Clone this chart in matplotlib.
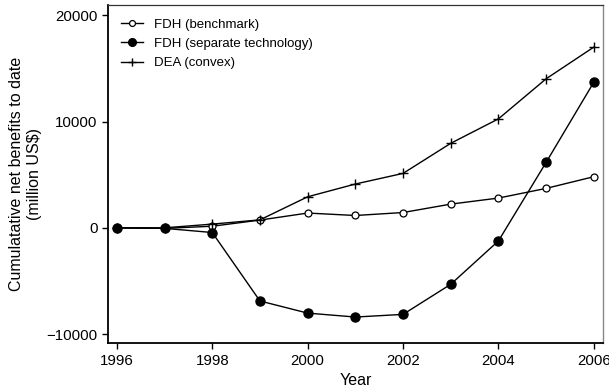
import matplotlib
matplotlib.use("Agg")
import matplotlib.pyplot as plt

plt.rcParams['font.family'] = ['Liberation Sans', 'DejaVu Sans']

years = [1996, 1997, 1998, 1999, 2000, 2001, 2002, 2003, 2004, 2005, 2006]
fdh_bench = [0, -50, 150, 730, 1390, 1160, 1440, 2230, 2800, 3710, 4810]
fdh_sep = [0, -50, -440, -6880, -8020, -8390, -8140, -5310, -1230, 6160, 13700]
dea = [0, 0, 350, 750, 2920, 4120, 5120, 7950, 10250, 14020, 17000]

fig = plt.figure(figsize=(6.09, 3.90), dpi=100)
ax = fig.add_axes([0.177, 0.12, 0.813, 0.867])

ax.plot(years, fdh_bench, color='black', lw=1, marker='o', ms=5,
        mfc='white', mec='black', mew=0.9, label='FDH (benchmark)')
ax.plot(years, fdh_sep, color='black', lw=1, marker='o', ms=6.5,
        mfc='black', mec='black', label='FDH (separate technology)')
ax.plot(years, dea, color='black', lw=1, marker='+', ms=7, mew=1,
        label='DEA (convex)')

ax.set_xlim(1995.81, 2006.19)
ax.set_ylim(-10850, 20950)
ax.set_xticks([1996, 1998, 2000, 2002, 2004, 2006])
ax.set_yticks([-10000, 0, 10000, 20000])
ax.set_yticklabels(['\u221210000', '0', '10000', '20000'])
ax.tick_params(direction='out', length=4, width=1, labelsize=10.8)

ax.set_xlabel('Year', fontsize=11.5, labelpad=4)
ax.set_ylabel('Cumulatative net benefits to date\n(million US\\$)',
              fontsize=11.5, linespacing=1.25, labelpad=3)

for s in ['left', 'bottom']:
    ax.spines[s].set_linewidth(1.3)
    ax.spines[s].set_color('black')
ax.spines['top'].set_linewidth(0.9)
ax.spines['top'].set_color('#333333')
ax.spines['right'].set_linewidth(1.0)
ax.spines['right'].set_color('#888888')

leg = ax.legend(loc='upper left', frameon=False, fontsize=9.5, handlelength=1.7,
                borderaxespad=0.6, labelspacing=0.55, handletextpad=0.8,
                markerscale=0.85)

fig.savefig('out.png', dpi=100)
